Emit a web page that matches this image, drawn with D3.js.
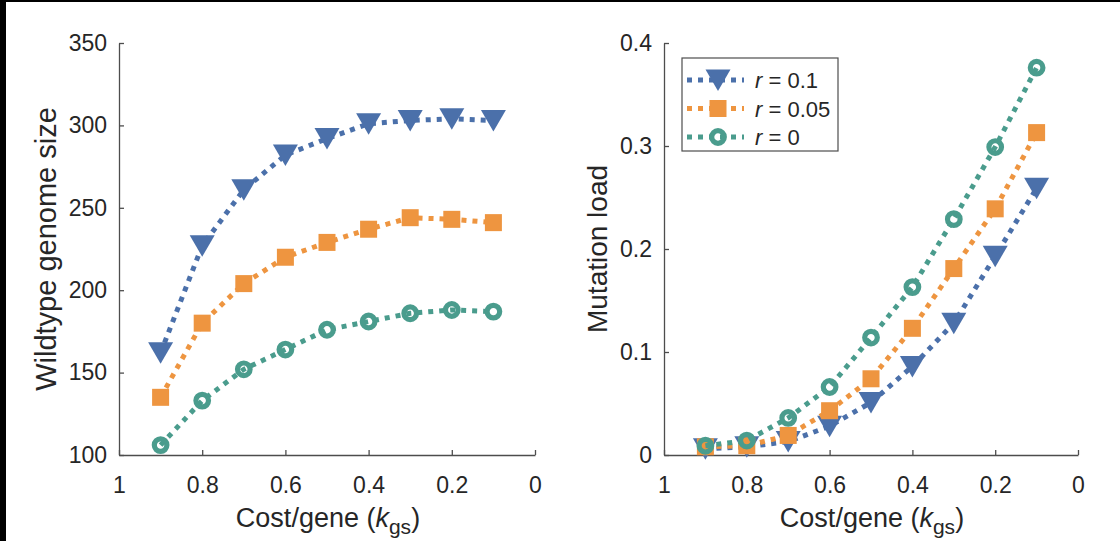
<!DOCTYPE html>
<html>
<head>
<meta charset="utf-8">
<script src="https://d3js.org/d3.v7.min.js"></script>
<style>
body { margin: 0; background: #fff; }
text { font-family: "Liberation Sans", Arial, sans-serif; fill: #262626; }
.axis path, .axis line { stroke: #4d4d4d; stroke-width: 1.3; }
.axis text { font-size: 23px; fill: #262626; font-family: "Liberation Sans", Arial, sans-serif; }
</style>
</head>
<body>
<script>
var width = 1120;
var height = 541;

// data
var costs = [0.9, 0.8, 0.7, 0.6, 0.5, 0.4, 0.3, 0.2, 0.1];
var genomeR01  = [162, 227, 261, 282, 292, 301, 303, 304, 303];
var genomeR005 = [135, 180, 204, 220, 229, 237, 244, 243, 241];
var genomeR0   = [106, 133, 152, 164, 176, 181, 186, 188, 187];
var loadR01  = [0.006, 0.008, 0.013, 0.028, 0.051, 0.086, 0.128, 0.193, 0.259];
var loadR005 = [0.008, 0.009, 0.019, 0.043, 0.074, 0.123, 0.181, 0.239, 0.313];
var loadR0   = [0.009, 0.014, 0.036, 0.066, 0.114, 0.163, 0.229, 0.299, 0.376];
var seriesLabels = ["0.1", "0.05", "0"];
var xTicks = [1, 0.8, 0.6, 0.4, 0.2, 0];
var xTickLabels = ["1", "0.8", "0.6", "0.4", "0.2", "0"];
var genomeTicks = [100, 150, 200, 250, 300, 350];
var loadTicks = [0, 0.1, 0.2, 0.3, 0.4];
var loadTickLabels = ["0", "0.1", "0.2", "0.3", "0.4"];

var colors = ["#4b70aa", "#ee9540", "#4a9c8d"];
var shapes = ["tri", "square", "circle"];

var svg = d3.select("body").append("svg")
    .attr("width", width)
    .attr("height", height);

svg.append("rect").attr("x", 0).attr("y", 0).attr("width", width).attr("height", height).attr("fill", "#fff");
// dark frame edges from the scan
svg.append("rect").attr("x", 0).attr("y", 0).attr("width", 6).attr("height", height).attr("fill", "#000");
svg.append("rect").attr("x", 0).attr("y", 0).attr("width", width).attr("height", 2).attr("fill", "#000");

function drawMarker(g, shape, color) {
    if (shape == "tri") {
        g.append("path").attr("d", "M-12.5,-10.5 L12.5,-10.5 L0,11 Z").attr("fill", color);
    } else if (shape == "square") {
        g.append("rect").attr("x", -8.5).attr("y", -8.5).attr("width", 17).attr("height", 17).attr("fill", color);
    } else {
        g.append("circle").attr("r", 6.3).attr("fill", "none").attr("stroke", color).attr("stroke-width", 5.2);
    }
}

function panel(x0, x1, yDomain, yTicks, yFormat, series, yLabel, yLabelX, yLabelSize) {
    var x = d3.scaleLinear().domain([1, 0]).range([x0, x1]);
    var y = d3.scaleLinear().domain(yDomain).range([455, 43]);

    var g = svg.append("g");

    g.append("g").attr("class", "axis")
        .attr("transform", "translate(0,455)")
        .call(d3.axisBottom(x).tickValues(xTicks).tickSizeInner(-5).tickSizeOuter(0).tickPadding(22)
            .tickFormat(function(d, i) { return xTickLabels[i]; }));

    g.append("g").attr("class", "axis")
        .attr("transform", "translate(" + x0 + ",0)")
        .call(d3.axisLeft(y).tickValues(yTicks).tickSizeInner(-5).tickSizeOuter(0).tickPadding(12)
            .tickFormat(yFormat));

    var line = d3.line()
        .x(function(d, i) { return x(costs[i]); })
        .y(function(d) { return y(d); });

    series.forEach(function(vals, s) {
        g.append("path")
            .attr("d", line(vals))
            .attr("fill", "none")
            .attr("stroke", colors[s])
            .attr("stroke-width", 5)
            .attr("stroke-dasharray", "5,6");
        vals.forEach(function(v, i) {
            var m = g.append("g").attr("transform", "translate(" + x(costs[i]) + "," + y(v) + ")");
            drawMarker(m, shapes[s], colors[s]);
        });
    });

    // x label with subscript
    var xl = g.append("text")
        .attr("x", (x0 + x1) / 2 + 1)
        .attr("y", 527)
        .attr("text-anchor", "middle")
        .style("font-size", "27px");
    xl.append("tspan").text("Cost/gene (");
    xl.append("tspan").style("font-style", "italic").text("k");
    xl.append("tspan").attr("dy", 7).style("font-size", "21px").text("gs");
    xl.append("tspan").attr("dy", -7).text(")");

    g.append("text")
        .attr("transform", "translate(" + yLabelX + ",249) rotate(-90)")
        .attr("text-anchor", "middle")
        .style("font-size", yLabelSize)
        .text(yLabel);

    return g;
}

panel(119, 535, [100, 350], genomeTicks, d3.format("d"),
    [genomeR01, genomeR005, genomeR0], "Wildtype genome size", 56, "29px");

panel(664, 1078, [0, 0.4], loadTicks,
    function(d, i) { return loadTickLabels[i]; },
    [loadR01, loadR005, loadR0], "Mutation load", 607, "28px");

// legend
var lg = svg.append("g");
lg.append("rect")
    .attr("x", 682).attr("y", 58).attr("width", 156).attr("height", 93)
    .attr("fill", "#fff").attr("stroke", "#4d4d4d").attr("stroke-width", 1.2);

seriesLabels.forEach(function(lbl, s) {
    var cy = 80 + s * 28.5;
    lg.append("line")
        .attr("x1", 687).attr("x2", 744).attr("y1", cy).attr("y2", cy)
        .attr("stroke", colors[s]).attr("stroke-width", 5).attr("stroke-dasharray", "5,6");
    var m = lg.append("g").attr("transform", "translate(718," + cy + ")");
    drawMarker(m, shapes[s], colors[s]);
    var t = lg.append("text")
        .attr("x", 755).attr("y", cy + 8)
        .style("font-size", "22px");
    t.append("tspan").style("font-style", "italic").text("r");
    t.append("tspan").text(" = " + lbl);
});
</script>
</body>
</html>
